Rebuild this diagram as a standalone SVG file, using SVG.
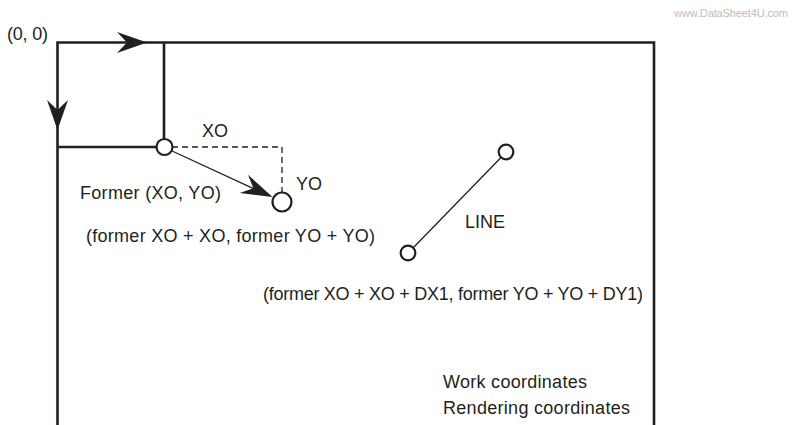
<svg xmlns="http://www.w3.org/2000/svg" width="794" height="425" viewBox="0 0 794 425">
<style>
.t{font-family:"Liberation Sans",Arial,sans-serif;font-size:18px;fill:#231f20}
.frame{fill:none;stroke:#231f20;stroke-width:2.6}
.thin{fill:none;stroke:#231f20;stroke-width:1.3}
.dash{fill:none;stroke:#231f20;stroke-width:1.3;stroke-dasharray:6 4}
.pt{fill:#fff;stroke:#231f20;stroke-width:2.2}
.ah{fill:#231f20}
.wm{font-family:"Liberation Sans",Arial,sans-serif;font-size:11px;fill:#bdbdbd}
</style>
<defs>
<path id="head" d="M0,0 L-30,-10.5 L-20,0 L-30,10.5 Z"/>
</defs>
<rect width="794" height="425" fill="#fff"/>
<text class="wm" x="674" y="17" textLength="114">www.DataSheet4U.com</text>
<g id="frame">
<path class="frame" d="M57.5,425 V42.5 H654 V425"/>
<path class="frame" d="M164,42.5 V147 H57.5"/>
</g>
<g id="connectors">
<use href="#head" class="ah" transform="translate(147,42.5)"/>
<use href="#head" class="ah" transform="translate(57.5,130) rotate(90)"/>
<path class="dash" d="M172,147 H282 V192"/>
<line class="thin" x1="171" y1="150.5" x2="262" y2="192.5"/>
<use href="#head" class="ah" transform="translate(272.5,197) rotate(24.6) scale(1.05,0.95)"/>
<line class="thin" x1="501" y1="157.5" x2="413" y2="248"/>
</g>
<g id="origin-point"><circle class="pt" cx="164.5" cy="147" r="8"/></g>
<g id="new-point"><circle class="pt" cx="282" cy="202" r="9.5"/></g>
<g id="line-end"><circle class="pt" cx="506" cy="152" r="7.3"/></g>
<g id="line-start"><circle class="pt" cx="408" cy="253" r="7.3"/></g>
<g id="labels">
<text class="t" x="7" y="40" textLength="41">(0, 0)</text>
<text class="t" x="202" y="137" textLength="26">XO</text>
<text class="t" x="296" y="190" textLength="26">YO</text>
<text class="t" x="80" y="199" textLength="141">Former (XO, YO)</text>
<text class="t" x="86" y="242" textLength="289">(former XO + XO, former YO + YO)</text>
<text class="t" x="465" y="228" textLength="40">LINE</text>
<text class="t" x="263" y="300" textLength="380">(former XO + XO + DX1, former YO + YO + DY1)</text>
<text class="t" x="443" y="388" textLength="144">Work coordinates</text>
<text class="t" x="443" y="414" textLength="187">Rendering coordinates</text>
</g>
</svg>
